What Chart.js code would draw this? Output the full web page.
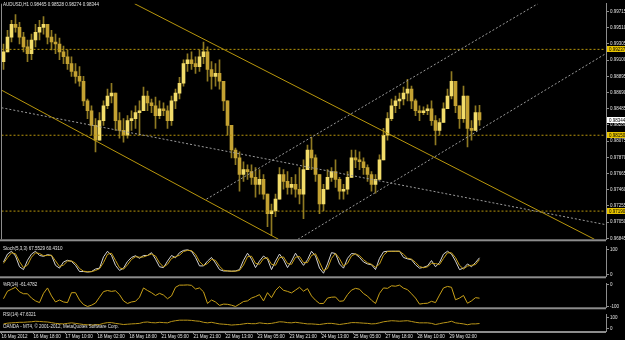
<!DOCTYPE html>
<html>
<head>
<meta charset="utf-8">
<script src="https://cdn.jsdelivr.net/npm/chart.js@4.4.1/dist/chart.umd.min.js"></script>
<style>
    html, body { margin: 0; padding: 0; background: #000; }
    #wrap { position: relative; width: 625px; height: 340px; background: #000; overflow: hidden; }
    #wrap canvas { position: absolute; left: 0; }
</style>
</head>
<body>
<div id="wrap">
    <canvas id="priceChart" width="625" height="243" style="top:0"></canvas>
    <canvas id="stochChart" width="625" height="37" style="top:243px"></canvas>
    <canvas id="wprChart" width="625" height="31" style="top:280px"></canvas>
    <canvas id="rsiChart" width="625" height="29" style="top:311px"></canvas>
</div>
<script>
// AUDUSD H1, bars grouped by two hours
const symbolTitle = 'AUDUSD,H1 0.98465 0.98528 0.98274 0.98344';
const stochTitle = 'Stoch(5,3,3) 67.5529 60.4310';
const wprTitle = '%R(14) -61.4782';
const rsiTitle = 'RSI(14) 47.6321';
const brokerText = 'OANDA - MT4, \u00a9 2001-2012, MetaQuotes Software Corp.';

const timeLabels = ['16 May 2012', '16 May 18:00', '17 May 10:00', '18 May 02:00', '18 May 18:00',
    '21 May 05:00', '21 May 21:00', '22 May 13:00', '23 May 05:00', '23 May 21:00',
    '24 May 13:00', '25 May 05:00', '27 May 18:00', '28 May 10:00', '29 May 02:00'];

const priceTicks = [0.99715, 0.99510, 0.99305, 0.99100, 0.98895, 0.98690, 0.98485, 0.98280,
    0.98075, 0.97870, 0.97665, 0.97460, 0.97255, 0.97050, 0.96845];
const levelLines = [0.99237, 0.98150, 0.97190];
const lastPrice = 0.98344;
const firstOpen = 0.99082;

const highs = [
    0.99305, 0.99479, 0.99603, 0.99678, 0.99579, 0.99454, 0.99355, 0.99429, 0.99554, 0.99603,
    0.99653, 0.99554, 0.99479, 0.99429, 0.99380, 0.99280, 0.99231, 0.99144, 0.99057, 0.99019,
    0.98895, 0.98609, 0.98523, 0.98361, 0.98436, 0.98585, 0.98734, 0.98808, 0.98684, 0.98436,
    0.98361, 0.98398, 0.98460, 0.98523, 0.98585, 0.98759, 0.98709, 0.98609, 0.98634, 0.98585,
    0.98560, 0.98523, 0.98647, 0.98734, 0.98883, 0.99106, 0.99181, 0.99206, 0.99144, 0.99231,
    0.99330, 0.99268, 0.99082, 0.99057, 0.99106, 0.98833, 0.98585, 0.98274, 0.97988, 0.97939,
    0.97814, 0.97777, 0.97777, 0.97740, 0.97715, 0.97653, 0.97404, 0.97280, 0.97404, 0.97740,
    0.97715, 0.97690, 0.97616, 0.97653, 0.97740, 0.97839, 0.98026, 0.98125, 0.97901, 0.97653,
    0.97529, 0.97715, 0.97740, 0.97839, 0.97616, 0.97529, 0.97690, 0.97963, 0.97963, 0.97939,
    0.97864, 0.97777, 0.97690, 0.97653, 0.97901, 0.98237, 0.98436, 0.98609, 0.98647, 0.98684,
    0.98759, 0.98858, 0.98771, 0.98609, 0.98523, 0.98510, 0.98535, 0.98585, 0.98398, 0.98361,
    0.98560, 0.98734, 0.98957, 0.98833, 0.98523, 0.98771, 0.98647, 0.98336, 0.98523, 0.98528];
const lows = [
    0.98982, 0.99206, 0.99330, 0.99454, 0.99305, 0.99206, 0.99082, 0.99106, 0.99268, 0.99355,
    0.99429, 0.99305, 0.99231, 0.99181, 0.99106, 0.99057, 0.98982, 0.98895, 0.98808, 0.98771,
    0.98523, 0.98361, 0.98150, 0.97939, 0.98088, 0.98274, 0.98485, 0.98560, 0.98212, 0.98113,
    0.98063, 0.98113, 0.98212, 0.98237, 0.98150, 0.98460, 0.98460, 0.98436, 0.98237, 0.98361,
    0.98398, 0.98237, 0.98274, 0.98485, 0.98609, 0.98771, 0.98957, 0.98982, 0.98933, 0.98957,
    0.99057, 0.98833, 0.98734, 0.98771, 0.98734, 0.98460, 0.98150, 0.97864, 0.97777, 0.97442,
    0.97566, 0.97591, 0.97529, 0.97367, 0.97404, 0.97342, 0.96994, 0.96883, 0.97119, 0.97342,
    0.97466, 0.97404, 0.97404, 0.97367, 0.97280, 0.97094, 0.97715, 0.97715, 0.97566, 0.97156,
    0.97193, 0.97466, 0.97566, 0.97491, 0.97342, 0.97342, 0.97404, 0.97616, 0.97740, 0.97715,
    0.97653, 0.97566, 0.97442, 0.97417, 0.97591, 0.97839, 0.98088, 0.98336, 0.98436, 0.98485,
    0.98535, 0.98585, 0.98485, 0.98398, 0.98336, 0.98411, 0.98411, 0.98274, 0.98026, 0.98150,
    0.98311, 0.98485, 0.98609, 0.98436, 0.98237, 0.98311, 0.98001, 0.98088, 0.98212, 0.98274];
const closes = [
    0.99206, 0.99392, 0.99554, 0.99516, 0.99392, 0.99268, 0.99181, 0.99355, 0.99454, 0.99516,
    0.99554, 0.99392, 0.99330, 0.99305, 0.99206, 0.99144, 0.99057, 0.98957, 0.98895, 0.98833,
    0.98585, 0.98460, 0.98274, 0.98088, 0.98336, 0.98523, 0.98647, 0.98684, 0.98336, 0.98212,
    0.98150, 0.98336, 0.98361, 0.98436, 0.98460, 0.98647, 0.98560, 0.98523, 0.98398, 0.98485,
    0.98460, 0.98336, 0.98585, 0.98684, 0.98808, 0.99057, 0.99106, 0.99057, 0.99019, 0.99144,
    0.99206, 0.98982, 0.98895, 0.98933, 0.98833, 0.98585, 0.98274, 0.97963, 0.97864, 0.97653,
    0.97715, 0.97690, 0.97616, 0.97529, 0.97591, 0.97404, 0.97156, 0.97193, 0.97342, 0.97653,
    0.97566, 0.97491, 0.97529, 0.97466, 0.97404, 0.97715, 0.97963, 0.97864, 0.97653, 0.97280,
    0.97466, 0.97616, 0.97690, 0.97591, 0.97442, 0.97466, 0.97616, 0.97864, 0.97839, 0.97814,
    0.97740, 0.97653, 0.97529, 0.97591, 0.97839, 0.98150, 0.98361, 0.98523, 0.98585, 0.98609,
    0.98684, 0.98734, 0.98585, 0.98460, 0.98436, 0.98460, 0.98485, 0.98336, 0.98212, 0.98311,
    0.98485, 0.98647, 0.98833, 0.98523, 0.98361, 0.98647, 0.98237, 0.98212, 0.98436, 0.98344];

const stochMain = [
    50.6, 82.8, 94.3, 74.7, 31.0, 19.5, 57.5, 82.8, 94.3, 77.0,
    73.6, 80.5, 77.0, 36.8, 25.3, 50.6, 57.5, 52.9, 36.8, 11.5,
    11.5, 9.2, 11.5, 21.8, 25.3, 71.3, 94.3, 77.0, 36.8, 16.1,
    25.3, 52.9, 69.0, 75.9, 65.5, 77.0, 77.0, 88.5, 62.1, 31.0,
    27.6, 54.0, 77.0, 67.8, 88.5, 97.7, 100, 94.3, 69.0, 34.5,
    34.5, 54.0, 69.0, 46.0, 19.5, 13.8, 13.8, 12.6, 13.8, 19.5,
    57.5, 86.2, 62.1, 27.6, 54.0, 74.7, 62.1, 19.5, 54.0, 82.8,
    59.8, 27.6, 54.0, 86.2, 59.8, 36.8, 59.8, 94.3, 74.7, 25.3,
    4.6, 42.5, 88.5, 85.0, 42.5, 25.3, 65.5, 85.0, 82.8, 69.0,
    50.6, 42.5, 39.1, 19.5, 65.5, 92.0, 94.3, 94.3, 94.3, 94.3,
    69.0, 63.2, 59.8, 39.1, 25.3, 28.7, 34.5, 56.3, 31.0, 48.3,
    82.8, 94.3, 82.8, 54.0, 19.5, 25.3, 42.5, 31.0, 48.3, 67.6];
const stochSignal = [
    45, 68, 88, 84, 52, 27, 38, 70, 88, 85,
    76, 77, 78, 55, 32, 38, 54, 55, 45, 24,
    13, 11, 11, 16, 23, 48, 82, 86, 57, 27,
    21, 39, 61, 72, 70, 71, 77, 83, 75, 47,
    30, 41, 65, 72, 78, 93, 98, 97, 82, 52,
    36, 44, 61, 57, 33, 17, 14, 13, 13, 16,
    38, 72, 74, 45, 41, 64, 68, 41, 37, 68,
    71, 44, 41, 70, 73, 48, 48, 77, 84, 50,
    15, 24, 65, 86, 64, 34, 45, 75, 84, 76,
    60, 47, 41, 29, 42, 78, 93, 94, 94, 94,
    82, 66, 62, 49, 32, 27, 31, 45, 44, 40,
    65, 88, 88, 68, 37, 22, 34, 37, 40, 60.4];
const wpr = [
    -64, -29, -20, -11, -32, -41, -41, -61, -74, -82,
    -39, -14, -51, -79, -70, -79, -82, -36, -36, -70,
    -91, -100, -94, -84, -57, -31, -26, -30, -27, -45,
    -74, -86, -79, -76, -57, -14, -26, -36, -49, -39,
    -47, -64, -51, -11, -1, -1, 0, -2, -19, -14,
    -32, -86, -70, -79, -95, -89, -90, -94, -100, -89,
    -77, -74, -61, -54, -45, -74, -36, -59, -26, -7,
    -25, -30, -37, -24, -11, -29, -17, -51, -71, -86,
    -86, -61, -57, -56, -76, -74, -45, -24, -16, -20,
    -40, -52, -71, -86, -39, -14, -16, -4, -6, -1,
    -15, -22, -41, -61, -89, -86, -85, -76, -82, -47,
    -14, -7, -11, -69, -61, -49, -85, -74, -59, -61.5];
const rsi = [
    44, 51, 54, 56, 59, 59, 62, 64, 69, 67,
    64, 62, 56, 49, 46, 44, 49, 54, 49, 44,
    38, 36, 33, 36, 38, 49, 56, 56, 49, 44,
    38, 41, 44, 46, 49, 59, 62, 56, 54, 59,
    56, 54, 67, 74, 79, 79, 79, 77, 72, 69,
    59, 54, 59, 51, 44, 41, 38, 33, 36, 38,
    44, 49, 46, 46, 54, 49, 46, 49, 56, 64,
    62, 56, 54, 59, 54, 49, 44, 44, 41, 38,
    44, 49, 49, 44, 38, 44, 49, 56, 56, 54,
    51, 49, 44, 46, 54, 64, 69, 74, 72, 69,
    72, 74, 67, 59, 54, 54, 54, 49, 38, 46,
    54, 59, 69, 54, 49, 44, 36, 44, 44, 47.6];

// trend lines: [bar from, price from, bar to, price to]
const channelLines = [[-0.5, 0.98721, 68.75, 0.96833], [32.75, 0.99815, 147.75, 0.96833]];
const dottedLines = [[-0.5, 0.98498, 150.5, 0.97019], [50.75, 0.97342, 133.6, 0.99815], [73.6, 0.96833, 150.5, 0.99181]];

//--- look
const FONT = { family: 'Liberation Sans', size: 4.5 };
const TEXT = '#e2e2e2';
const FRAME = '#8c8c8c';
const GOLD = '#b8960c';
const SLOTS = 151;

function rightAxis(min, max, ticks, fmt) {
    return {
        position: 'right', min: min, max: max,
        afterFit: function (s) { s.width = 19; },
        afterBuildTicks: function (s) { s.ticks = ticks.map(function (v) { return { value: v }; }); },
        grid: { drawOnChartArea: false, drawTicks: true, tickLength: 3, color: FRAME },
        border: { display: true, color: FRAME },
        ticks: { autoSkip: false, color: TEXT, font: FONT, padding: 1, callback: fmt }
    };
}

function hiddenX() {
    return { type: 'linear', min: -0.375, max: SLOTS - 0.375, offset: false, display: false };
}

const panelFrame = {
    id: 'panelFrame',
    afterDraw: function (chart, args, opts) {
        const ctx = chart.ctx, a = chart.chartArea;
        ctx.save();
        ctx.fillStyle = FRAME;
        ctx.fillRect(0, a.bottom, a.right, 2);
        if (opts.leftLine) ctx.fillRect(a.left - 1, a.top, 1, a.bottom - a.top);
        ctx.font = FONT.size + 'px "' + FONT.family + '"';
        ctx.textBaseline = 'middle';
        ctx.fillStyle = TEXT;
        (opts.texts || []).forEach(function (t) { ctx.fillText(t.text, t.x, t.y); });
        ctx.restore();
    }
};

const axisMarks = {
    id: 'axisMarks',
    afterDraw: function (chart) {
        const ctx = chart.ctx, y = chart.scales.y;
        ctx.save();
        ctx.font = FONT.size + 'px "' + FONT.family + '"';
        ctx.textBaseline = 'middle';
        function box(v, fill) {
            const py = Math.round(y.getPixelForValue(v));
            ctx.fillStyle = fill;
            ctx.fillRect(y.left + 1, py - 3, 18, 6);
            ctx.fillStyle = '#000';
            ctx.fillText(v.toFixed(5), y.left + 3, py + 0.5);
        }
        levelLines.forEach(function (v) { box(v, '#e8c400'); });
        box(lastPrice, '#ffffff');
        ctx.restore();
    }
};

function baseOptions(padding) {
    return {
        responsive: false, animation: false, devicePixelRatio: 1, events: [],
        layout: { autoPadding: false, padding: padding },
        plugins: { legend: { display: false }, tooltip: { enabled: false } }
    };
}

//--- price panel
const wickData = [], bodyData = [], bodyColors = [];
closes.forEach(function (c, i) {
    const open = i === 0 ? firstOpen : closes[i - 1];
    wickData.push({ x: i, y: [lows[i], highs[i]] });
    bodyData.push({ x: i, y: [Math.min(open, c), Math.max(open, c)] });
    bodyColors.push(c >= open ? '#f2dc6a' : '#c4a232');
});

function lineSet(seg, color, dash) {
    return {
        type: 'line', data: [{ x: seg[0], y: seg[1] }, { x: seg[2], y: seg[3] }],
        borderColor: color, borderWidth: 1, borderDash: dash, pointRadius: 0, order: 0
    };
}

const priceSets = [
    { type: 'bar', data: wickData, backgroundColor: '#8f7a22', barThickness: 1, grouped: false, order: 2 },
    { type: 'bar', data: bodyData, backgroundColor: bodyColors, barThickness: 3, grouped: false, order: 1 }
];
channelLines.forEach(function (s) { priceSets.push(lineSet(s, GOLD, [])); });
dottedLines.forEach(function (s) { priceSets.push(lineSet(s, '#9a9a9a', [2, 2])); });
levelLines.forEach(function (v) { priceSets.push(lineSet([-0.5, v, SLOTS - 0.5, v], GOLD, [2, 2])); });

const priceOpts = baseOptions({ top: 1, bottom: 2, left: 2, right: 0 });
priceOpts.scales = {
    x: hiddenX(),
    y: rightAxis(0.96833, 0.99815, priceTicks, function (v) { return v.toFixed(5); })
};
priceOpts.plugins.panelFrame = { leftLine: true, texts: [{ text: symbolTitle, x: 3, y: 5 }] };

new Chart(document.getElementById('priceChart'), {
    type: 'bar',
    data: { datasets: priceSets },
    options: priceOpts,
    plugins: [panelFrame, axisMarks]
});

//--- indicator panels
function points(arr) {
    return arr.map(function (v, i) { return { x: i, y: v }; });
}
function indicatorSet(arr, color) {
    return { data: points(arr), borderColor: color, borderWidth: 1, pointRadius: 0, tension: 0 };
}

const stochOpts = baseOptions({ top: 0, bottom: 2, left: 2, right: 0 });
stochOpts.scales = { x: hiddenX(), y: rightAxis(-7.9, 112.8, [100, 0], String) };
stochOpts.plugins.panelFrame = { texts: [{ text: stochTitle, x: 3, y: 5.5 }] };
new Chart(document.getElementById('stochChart'), {
    type: 'line',
    data: { datasets: [indicatorSet(stochSignal, '#c8a018'), indicatorSet(stochMain, '#d4d4d4')] },
    options: stochOpts,
    plugins: [panelFrame]
});

const wprOpts = baseOptions({ top: 0, bottom: 2, left: 2, right: 0 });
wprOpts.scales = { x: hiddenX(), y: rightAxis(-103.8, 5.66, [0, -100], String) };
wprOpts.plugins.panelFrame = { texts: [{ text: wprTitle, x: 3, y: 5 }] };
new Chart(document.getElementById('wprChart'), {
    type: 'line',
    data: { datasets: [indicatorSet(wpr, '#c8a018')] },
    options: wprOpts,
    plugins: [panelFrame]
});

const rsiOpts = baseOptions({ top: 0, bottom: 0, left: 2, right: 0 });
rsiOpts.scales = {
    x: {
        type: 'linear', min: -0.375, max: SLOTS - 0.375, offset: false,
        afterFit: function (s) { s.height = 9; },
        afterBuildTicks: function (s) { s.ticks = timeLabels.map(function (t, k) { return { value: k * 8 - 0.5 }; }); },
        grid: { drawOnChartArea: false, drawTicks: true, tickLength: 3, color: FRAME },
        border: { display: false },
        ticks: { autoSkip: false, maxRotation: 0, align: 'start', padding: 0, color: TEXT, font: FONT,
            callback: function (v, k) { return timeLabels[k]; } }
    },
    y: rightAxis(-23.1, 130.8, [100, 0], String)
};
rsiOpts.plugins.panelFrame = { texts: [{ text: rsiTitle, x: 3, y: 4 }, { text: brokerText, x: 3, y: 16 }] };
new Chart(document.getElementById('rsiChart'), {
    type: 'line',
    data: { datasets: [indicatorSet(rsi, '#b89418')] },
    options: rsiOpts,
    plugins: [panelFrame]
});
</script>
</body>
</html>
